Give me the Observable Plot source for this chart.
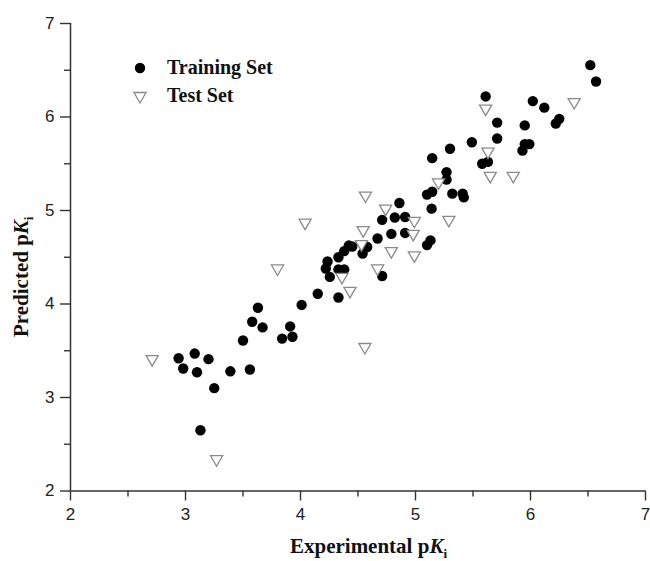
<!DOCTYPE html>
<html>
<head>
<meta charset="utf-8">
<script src="https://cdn.jsdelivr.net/npm/d3@7"></script>
<script src="https://cdn.jsdelivr.net/npm/@observablehq/plot@0.6"></script>
<style>
  html, body { margin: 0; padding: 0; background: white; }
</style>
</head>
<body>
<div id="chart"></div>
<script>
// Training set: experimental pKi (x) and predicted pKi (y)
const trainX = [2.94, 2.98, 3.08, 3.10, 3.20, 3.25, 3.13, 3.39, 3.56, 3.50, 3.58, 3.63, 3.67, 3.84, 3.93, 3.91, 4.01, 4.15, 4.33,
  4.235, 4.22, 4.255, 4.33, 4.38, 4.42, 4.45, 4.33, 4.38, 4.54, 4.58, 4.67, 4.71, 4.71, 4.79, 4.82, 4.86, 4.91, 4.91,
  5.10, 5.13, 5.10, 5.145, 5.14, 6.52, 6.57, 5.61, 6.02, 6.12, 5.71, 5.95, 6.22, 6.25, 5.49, 5.71, 5.95, 5.99, 5.93,
  5.30, 5.145, 5.58, 5.63, 5.27, 5.27, 5.32, 5.41, 5.42];
const trainY = [3.42, 3.31, 3.47, 3.27, 3.41, 3.10, 2.65, 3.28, 3.30, 3.61, 3.81, 3.96, 3.75, 3.63, 3.65, 3.76, 3.99, 4.11, 4.07,
  4.455, 4.38, 4.29, 4.50, 4.565, 4.625, 4.615, 4.37, 4.37, 4.54, 4.61, 4.70, 4.30, 4.90, 4.75, 4.925, 5.08, 4.93, 4.76,
  4.63, 4.68, 5.17, 5.20, 5.02, 6.555, 6.38, 6.22, 6.17, 6.10, 5.94, 5.91, 5.93, 5.98, 5.73, 5.77, 5.71, 5.71, 5.64,
  5.66, 5.56, 5.50, 5.52, 5.41, 5.33, 5.18, 5.18, 5.14];

// Test set
const testX = [2.71, 3.27, 4.43, 4.56, 4.565, 4.04, 3.80, 4.74, 4.545, 4.53, 4.36, 4.67, 4.79, 4.99, 4.98, 4.99, 5.20, 5.29,
  6.38, 5.61, 5.63, 5.65, 5.85];
const testY = [3.41, 2.34, 4.14, 3.54, 5.16, 4.87, 4.38, 5.02, 4.79, 4.64, 4.29, 4.38, 4.565, 4.89, 4.75, 4.52, 5.30, 4.90,
  6.16, 6.09, 5.63, 5.37, 5.37];

const majorTicks = [2, 3, 4, 5, 6, 7];
const minorTicks = [2.5, 3.5, 4.5, 5.5, 6.5];
const seriesNames = ["Training Set", "Test Set"];

const train = trainX.map((x, i) => ({x, y: trainY[i]}));
const test = testX.map((x, i) => ({x, y: testY[i]}));

const axisColor = "#333";
const fmt = d => String(d);

const svg = Plot.plot({
  width: 650,
  height: 561,
  marginLeft: 70,
  marginRight: 5,
  marginTop: 23,
  marginBottom: 70.5,
  style: {fontFamily: "'Liberation Sans', Arial, sans-serif", fontSize: "17px", color: "#222", background: "white"},
  x: {domain: [2, 7]},
  y: {domain: [2, 7]},
  marks: [
    Plot.ruleX([2], {stroke: axisColor, strokeWidth: 1.5}),
    Plot.ruleY([2], {stroke: axisColor, strokeWidth: 1.5}),
    Plot.axisX({ticks: majorTicks, tickFormat: fmt, tickSize: 10, tickPadding: 7, label: null, stroke: axisColor, strokeWidth: 1.4}),
    Plot.axisX({ticks: minorTicks, tickSize: 6, text: null, label: null, stroke: axisColor, strokeWidth: 1.4}),
    Plot.axisY({ticks: majorTicks, tickFormat: fmt, tickSize: 10, tickPadding: 6, label: null, stroke: axisColor, strokeWidth: 1.4}),
    Plot.axisY({ticks: minorTicks, tickSize: 6, text: null, label: null, stroke: axisColor, strokeWidth: 1.4}),
    Plot.dot(train, {x: "x", y: "y", r: 5.2, fill: "black", stroke: "none"}),
    Plot.dot(test, {x: "x", y: "y", symbol: "triangle", rotate: 180, r: 4.5, fill: "white", stroke: "#8a8a8a", strokeWidth: 1.3})
  ]
});

const sx = svg.scale("x"), sy = svg.scale("y");
const cx = (sx.range[0] + sx.range[1]) / 2;
const cy = (sy.range[0] + sy.range[1]) / 2;
const root = d3.select(svg);
const serif = "'Liberation Serif', 'Times New Roman', serif";

// X axis title
const xt = root.append("text")
  .attr("x", cx + 11).attr("y", 553)
  .attr("text-anchor", "middle")
  .attr("font-family", serif).attr("font-weight", "bold").attr("font-size", 21).attr("fill", "#111");
xt.append("tspan").text("Experimental p");
xt.append("tspan").attr("font-style", "italic").text("K");
xt.append("tspan").attr("font-size", 13).attr("dy", 5).text("i");

// Y axis title
const yt = root.append("text")
  .attr("transform", `translate(28,${cy + 20}) rotate(-90)`)
  .attr("text-anchor", "middle")
  .attr("font-family", serif).attr("font-weight", "bold").attr("font-size", 21).attr("fill", "#111");
yt.append("tspan").text("Predicted p");
yt.append("tspan").attr("font-style", "italic").text("K");
yt.append("tspan").attr("font-size", 13).attr("dy", 5).text("i");

// Legend
const lg = root.append("g").attr("font-family", serif).attr("font-weight", "bold").attr("font-size", 20).attr("fill", "#111");
const items = lg.selectAll("g").data(seriesNames).join("g")
  .attr("transform", (d, i) => `translate(140,${68 + i * 28})`);
items.filter((d, i) => i === 0).append("circle").attr("r", 5.2).attr("fill", "black");
items.filter((d, i) => i === 1).append("path")
  .attr("d", d3.symbol(d3.symbolTriangle, 4.5 * 4.5 * Math.PI)())
  .attr("transform", "rotate(180)")
  .attr("fill", "white").attr("stroke", "#8a8a8a").attr("stroke-width", 1.3);
items.append("text").attr("x", 27).attr("y", 6).attr("text-anchor", "start").text(d => d);

document.getElementById("chart").appendChild(svg);
</script>
</body>
</html>
